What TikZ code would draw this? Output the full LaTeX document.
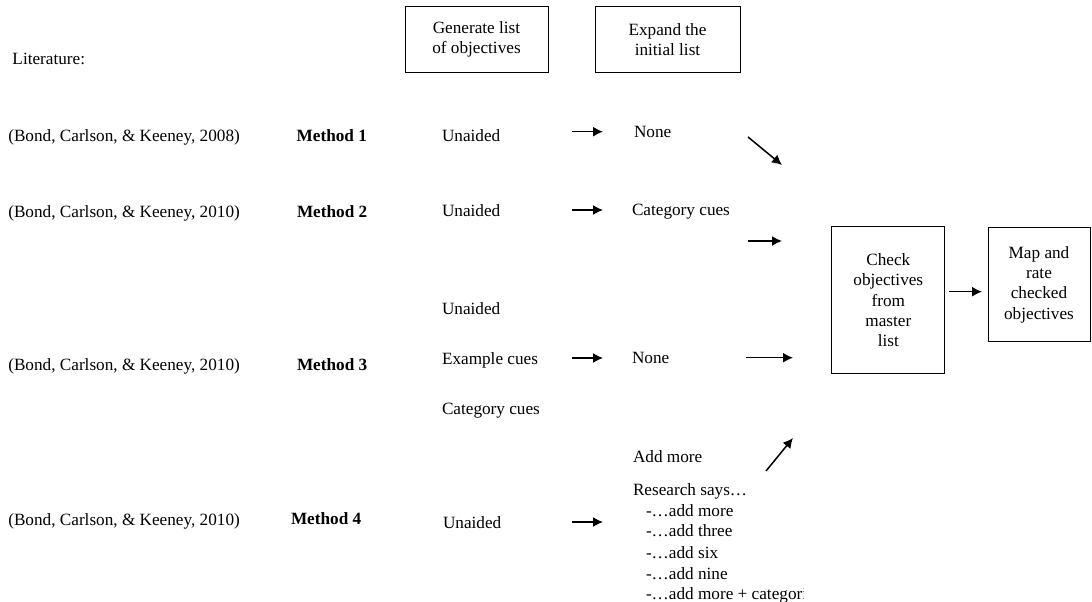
\documentclass[tikz,border=0pt]{standalone}
\usepackage{fontspec}
\setmainfont{Liberation Serif}
\usetikzlibrary{arrows.meta}
\begin{document}
\begin{tikzpicture}[x=1pt,y=-1pt,
  every node/.style={inner sep=0pt,outer sep=0pt,font=\fontsize{17.2}{20.3}\selectfont},
  lbl/.style={anchor=base west},
  meth/.style={anchor=base west,font=\fontsize{17.2}{20.3}\selectfont\bfseries},
  stage/.style={draw,line width=1pt,align=center},
  flow/.style={line width=1.5pt,-{Latex[length=10pt,width=10pt]}}]
\useasboundingbox (0,0) rectangle (1092,602);

% stage boxes
\node[stage,minimum width=143,minimum height=66] (gen) at (476.5,39.7) {Generate list\\of objectives};
\node[stage,minimum width=145,minimum height=66] (exp) at (667.5,39.7) {Expand the\\initial list};
\node[stage,minimum width=113,minimum height=147] (chk) at (888.3,300.3) {Check\\objectives\\from\\master\\list};
\node[stage,minimum width=102,minimum height=114] (map) at (1039,284.5) {Map and\\rate\\checked\\objectives};

\node[lbl] (lit) at (12.5,65) {Literature:};

% method 1
\node[lbl]  (c1) at (8.3,141) {(Bond, Carlson, \& Keeney, 2008)};
\node[meth] (m1) at (296.7,141) {Method 1};
\node[lbl]  (g1) at (442,141) {Unaided};
\node[lbl]  (e1) at (634,137.5) {None};

% method 2
\node[lbl]  (c2) at (8.3,217) {(Bond, Carlson, \& Keeney, 2010)};
\node[meth] (m2) at (297,217) {Method 2};
\node[lbl]  (g2) at (442,216) {Unaided};
\node[lbl]  (e2) at (632,215) {Category cues};

% method 3
\node[lbl]  (c3) at (8.3,370) {(Bond, Carlson, \& Keeney, 2010)};
\node[meth] (m3) at (297,370) {Method 3};
\node[lbl]  (g3a) at (442,314) {Unaided};
\node[lbl]  (g3b) at (442,364) {Example cues};
\node[lbl]  (g3c) at (442,414) {Category cues};
\node[lbl]  (e3) at (632,363) {None};

% method 4
\node[lbl]  (c4) at (8.3,525) {(Bond, Carlson, \& Keeney, 2010)};
\node[meth] (m4) at (291,524) {Method 4};
\node[lbl]  (g4) at (443,528) {Unaided};
\node[lbl]  (e4a) at (633,462) {Add more};
\node[lbl]  (e4b) at (633,495) {Research says…};
\node[lbl]  (e4c) at (646,516) {-…add more};
\node[lbl]  (e4d) at (646,536) {-…add three};
\node[lbl]  (e4e) at (646,558) {-…add six};
\node[lbl]  (e4f) at (646,579) {-…add nine};
\begin{scope}
  \clip (640,580) rectangle (803,602);
  \node[lbl] (e4g) at (646,599) {-…add more + categories};
\end{scope}

% connector end points
\coordinate (a1s) at (572,131.7);  \coordinate (a1e) at (603,131.7);
\coordinate (a2s) at (572,210);    \coordinate (a2e) at (603,210);
\coordinate (a3s) at (572,358);    \coordinate (a3e) at (603,358);
\coordinate (a4s) at (572,522);    \coordinate (a4e) at (603,522);
\coordinate (b1s) at (748,137);    \coordinate (b1e) at (782,165);
\coordinate (b2s) at (748,241);    \coordinate (b2e) at (782,241);
\coordinate (b3s) at (746,357.7);  \coordinate (b3e) at (793,357.7);
\coordinate (b4s) at (766,471);    \coordinate (b4e) at (793,438);
\coordinate (cks) at (949,291.7);  \coordinate (cke) at (982,291.7);

\draw[flow] (a1s) -- (a1e);
\draw[flow] (a2s) -- (a2e);
\draw[flow] (a3s) -- (a3e);
\draw[flow] (a4s) -- (a4e);
\draw[flow] (b1s) -- (b1e);
\draw[flow] (b2s) -- (b2e);
\draw[flow] (b3s) -- (b3e);
\draw[flow] (b4s) -- (b4e);
\draw[flow] (cks) -- (cke);
\end{tikzpicture}
\end{document}
